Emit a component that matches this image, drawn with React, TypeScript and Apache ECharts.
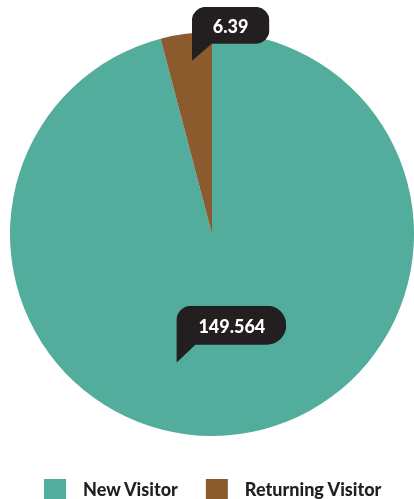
import React, { useEffect, useRef } from "react";
import * as echarts from "echarts";

const categories = ["New Visitor", "Returning Visitor"];
const values = [149.564, 6.39];
const colors = ["#52ad9c", "#8b5a2d"];
const labelOffsets = [
  [6, -3],
  [32, -97],
];

const DARK = "#231f20";

function callout(w: number, boxH: number, tailH: number, tailW: number, rl: number, rr: number) {
  const H = boxH + tailH;
  const d = `M0 ${rl} A${rl} ${rl} 0 0 1 ${rl} 0 L${w - rr} 0 A${rr} ${rr} 0 0 1 ${w} ${rr} L${w} ${boxH - rr} A${rr} ${rr} 0 0 1 ${w - rr} ${boxH} L${tailW} ${boxH} L0 ${H} Z`;
  const svg = `<svg xmlns="http://www.w3.org/2000/svg" width="${w}" height="${H}" viewBox="0 0 ${w} ${H}" preserveAspectRatio="none"><path d="${d}" fill="${DARK}"/></svg>`;
  return "data:image/svg+xml;charset=utf-8," + encodeURIComponent(svg);
}

const bubbles = [
  { img: callout(110, 39, 18, 19, 15, 19.5), padding: [11, 21, 10, 22], tail: 18 },
  { img: callout(78, 37, 17, 20, 14, 14), padding: [10, 21, 10, 21], tail: 16 },
];

export default function App() {
  const ref = useRef<HTMLDivElement>(null);
  useEffect(() => {
    document.body.style.margin = "0";
    const chart = echarts.init(ref.current!, undefined, { renderer: "svg" });
    chart.setOption({
      animation: false,
      legend: {
        data: categories,
        left: 39,
        top: 474,
        icon: "rect",
        itemWidth: 22,
        itemHeight: 20,
        itemGap: 27,
        selectedMode: false,
        textStyle: {
          color: DARK,
          fontFamily: "Lato",
          fontWeight: 900,
          fontSize: 18,
          padding: [0, 0, 0, 12],
        },
      },
      series: [
        {
          type: "pie",
          center: [212, 234],
          radius: [0, 202],
          startAngle: 90,
          clockwise: true,
          avoidLabelOverlap: false,
          emphasis: { disabled: true },
          itemStyle: { borderWidth: 0 },
          labelLine: { show: false },
          data: categories.map((name, i) => ({
            name,
            value: values[i],
            itemStyle: { color: colors[i] },
            label: {
              show: true,
              position: "inside",
              offset: labelOffsets[i],
              formatter: "{v|" + values[i] + "}\n{t| }",
              padding: bubbles[i].padding,
              backgroundColor: { image: bubbles[i].img },
              rich: {
                v: {
                  color: "#ffffff",
                  fontFamily: "Lato",
                  fontWeight: 900,
                  fontSize: 18,
                  lineHeight: 18,
                  height: 18,
                },
                t: {
                  fontSize: 4,
                  lineHeight: bubbles[i].tail,
                  height: bubbles[i].tail,
                },
              },
            },
          })),
        },
      ],
    });
    return () => chart.dispose();
  }, []);
  return (
    <div
      ref={ref}
      style={{ position: "fixed", left: 0, top: 0, width: 414, height: 499 }}
    />
  );
}
